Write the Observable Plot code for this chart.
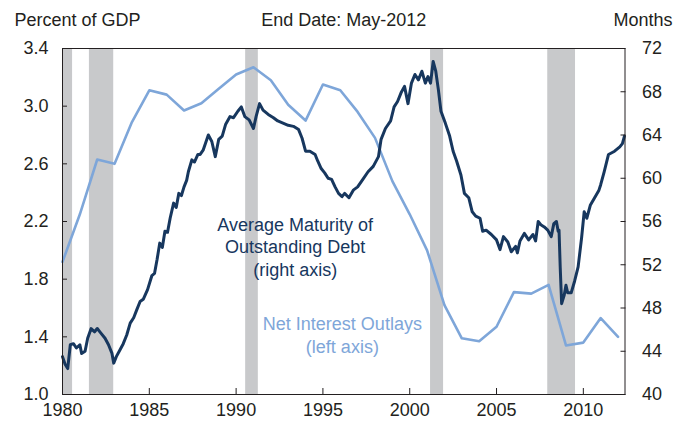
<!DOCTYPE html>
<html><head><meta charset="utf-8">
<script src="https://cdn.jsdelivr.net/npm/d3@7"></script>
<script src="https://cdn.jsdelivr.net/npm/@observablehq/plot@0.6"></script>
<style>
html,body{margin:0;padding:0;background:#fff;}
#chart{width:679px;height:424px;}
</style></head><body><div id="chart"></div>
<script>
// Recession periods (decimal years)
const recessionStart = [1980.0, 1981.55, 1990.55, 2001.2, 2007.95];
const recessionEnd   = [1980.58, 1982.95, 1991.28, 2001.95, 2009.55];

// Net interest outlays, percent of GDP (left axis)
const interestYears = [1980,1981,1982,1983,1984,1985,1986,1987,1988,1989,1990,1991,1992,1993,1994,1995,1996,1997,1998,1999,2000,2001,2002,2003,2004,2005,2006,2007,2008,2009,2010,2011,2012];
const interestPct   = [1.92,2.25,2.63,2.60,2.89,3.11,3.08,2.97,3.02,3.12,3.22,3.27,3.18,3.01,2.90,3.15,3.11,2.96,2.78,2.48,2.25,2.00,1.62,1.39,1.37,1.47,1.71,1.70,1.76,1.34,1.36,1.53,1.40];

// Average maturity of outstanding debt, months (right axis)
const maturityDates = [1980.0,1980.15,1980.3,1980.45,1980.63,1980.8,1981.0,1981.1,1981.3,1981.45,1981.65,1981.85,1982.0,1982.2,1982.45,1982.65,1982.85,1982.95,1983.1,1983.3,1983.5,1983.7,1983.9,1984.1,1984.27,1984.47,1984.65,1984.9,1985.15,1985.3,1985.45,1985.6,1985.75,1985.9,1986.05,1986.2,1986.4,1986.55,1986.7,1986.85,1987.0,1987.15,1987.25,1987.45,1987.6,1987.8,1987.93,1988.1,1988.4,1988.6,1988.8,1989.0,1989.2,1989.4,1989.65,1989.85,1990.1,1990.3,1990.5,1990.75,1991.0,1991.15,1991.35,1991.55,1991.85,1992.15,1992.4,1992.7,1993.0,1993.3,1993.6,1993.8,1994.0,1994.25,1994.55,1994.7,1994.9,1995.1,1995.3,1995.5,1995.7,1995.9,1996.1,1996.25,1996.5,1996.75,1997.0,1997.3,1997.6,1997.9,1998.2,1998.35,1998.6,1998.9,1999.1,1999.3,1999.5,1999.7,1999.9,2000.1,2000.3,2000.5,2000.7,2000.9,2001.05,2001.2,2001.35,2001.5,2001.65,2001.8,2002.05,2002.3,2002.5,2002.7,2002.95,2003.15,2003.4,2003.6,2003.8,2004.05,2004.2,2004.4,2004.7,2005.0,2005.2,2005.4,2005.65,2005.85,2006.1,2006.2,2006.35,2006.6,2006.85,2007.1,2007.25,2007.4,2007.55,2007.75,2007.95,2008.15,2008.3,2008.45,2008.55,2008.6,2008.67,2008.75,2008.9,2009.0,2009.1,2009.3,2009.5,2009.7,2009.9,2010.05,2010.2,2010.4,2010.65,2010.9,2011.0,2011.2,2011.45,2011.8,2012.1,2012.25,2012.37];
const maturityMonths = [43.5,42.8,42.4,44.6,44.7,44.3,44.6,43.8,44.0,45.2,46.1,45.8,46.1,45.7,45.2,44.6,43.8,42.9,43.5,44.1,44.7,45.5,46.6,47.1,47.8,48.6,48.8,49.7,51.0,51.2,52.5,54.0,53.6,55.1,55.0,56.3,57.7,57.3,58.6,58.4,59.2,59.8,60.6,61.7,61.5,62.2,62.2,62.6,64.0,63.4,62.0,63.6,63.9,65.0,65.7,65.6,66.2,66.6,65.7,65.4,64.6,65.7,66.9,66.3,65.9,65.6,65.3,65.1,64.9,64.8,64.5,63.7,62.5,62.5,62.2,61.6,60.9,60.5,60.0,59.9,59.2,58.6,58.3,58.6,58.2,58.9,59.2,59.9,60.6,61.1,62.0,63.6,64.6,65.3,66.6,67.1,67.9,68.5,66.9,68.8,69.6,69.1,69.9,68.8,69.4,68.8,70.8,69.9,68.2,66.2,65.1,63.9,62.5,61.6,60.3,58.6,58.2,56.9,56.5,56.3,55.1,55.2,54.8,54.3,53.4,54.6,54.1,53.2,53.7,53.1,54.2,54.9,54.3,54.8,54.2,56.0,55.7,55.5,55.2,54.6,55.8,56.0,55.1,55.2,51.7,48.4,49.2,50.1,49.4,49.4,50.5,51.8,54.5,56.9,56.3,57.5,58.2,58.9,59.4,60.6,62.2,62.5,62.9,63.2,63.9];

// Tick labels
const xTicks = [1980, 1985, 1990, 1995, 2000, 2005, 2010];
const leftTicks = [1.0, 1.4, 1.8, 2.2, 2.6, 3.0, 3.4];
const rightTicks = [40, 44, 48, 52, 56, 60, 64, 68, 72];

// Map right-axis months onto the left-axis scale
const leftMin = 1.0, leftMax = 3.4, rightMin = 40, rightMax = 72;
const toLeft = m => leftMin + (m - rightMin) * (leftMax - leftMin) / (rightMax - rightMin);
const toRight = v => rightMin + (v - leftMin) * (rightMax - rightMin) / (leftMax - leftMin);

const recessions = recessionStart.map((s, i) => ({start: s, end: recessionEnd[i]}));
const interest = interestYears.map((y, i) => ({year: y, pct: interestPct[i]}));
const maturity = maturityDates.map((d, i) => ({date: d, months: maturityMonths[i]}));

const navy = "#17375e";
const lightBlue = "#7ea6d9";
const ink = "#231f20";

const chart = Plot.plot({
  width: 679,
  height: 424,
  marginTop: 48,
  marginBottom: 30,
  marginLeft: 62,
  marginRight: 54.5,
  style: {fontFamily: "'Liberation Sans', Arial, sans-serif", fontSize: "18px", color: ink, background: "#fff"},
  x: {domain: [1980, 2012.4], label: null},
  y: {domain: [leftMin, leftMax], label: null},
  marks: [
    Plot.rect(recessions, {x1: "start", x2: "end", fill: "#c8c9cb"}),
    Plot.line(interest, {x: "year", y: "pct", stroke: lightBlue, strokeWidth: 2.6, strokeLinejoin: "round"}),
    Plot.line(maturity, {x: "date", y: d => toLeft(d.months), stroke: navy, strokeWidth: 3, strokeLinejoin: "round"}),
    Plot.frame({stroke: ink, strokeWidth: 1}),
    Plot.axisX(xTicks, {tickSize: -6, tickPadding: 15, tickFormat: d3.format("d"), label: null, stroke: ink}),
    Plot.axisY(leftTicks, {anchor: "left", tickSize: -5, tickPadding: 19, tickFormat: d3.format(".1f"), label: null, stroke: ink}),
    Plot.axisY(rightTicks.map(toLeft), {anchor: "right", tickSize: -5, tickPadding: 22, tickFormat: v => String(Math.round(toRight(v))), label: null, stroke: ink}),
    Plot.text(["Average Maturity of\nOutstanding Debt\n(right axis)"], {x: 1993.4, y: 2.03, text: d => d, fill: navy, fontSize: 18, lineHeight: 1.25}),
    Plot.text(["Net Interest Outlays\n(left axis)"], {x: 1996.12, y: 1.416, text: d => d, fill: lightBlue, fontSize: 18, lineHeight: 1.25}),
    Plot.text(["Percent of GDP"], {frameAnchor: "top-left", dx: -48, dy: -28, textAnchor: "start", lineAnchor: "middle", text: d => d, fontSize: 18}),
    Plot.text(["End Date: May-2012"], {frameAnchor: "top", dx: 0, dy: -28, lineAnchor: "middle", text: d => d, fontSize: 18}),
    Plot.text(["Months"], {frameAnchor: "top-right", dx: 47.5, dy: -28, textAnchor: "end", lineAnchor: "middle", text: d => d, fontSize: 18})
  ]
});
document.getElementById("chart").appendChild(chart);
</script>
</body></html>
